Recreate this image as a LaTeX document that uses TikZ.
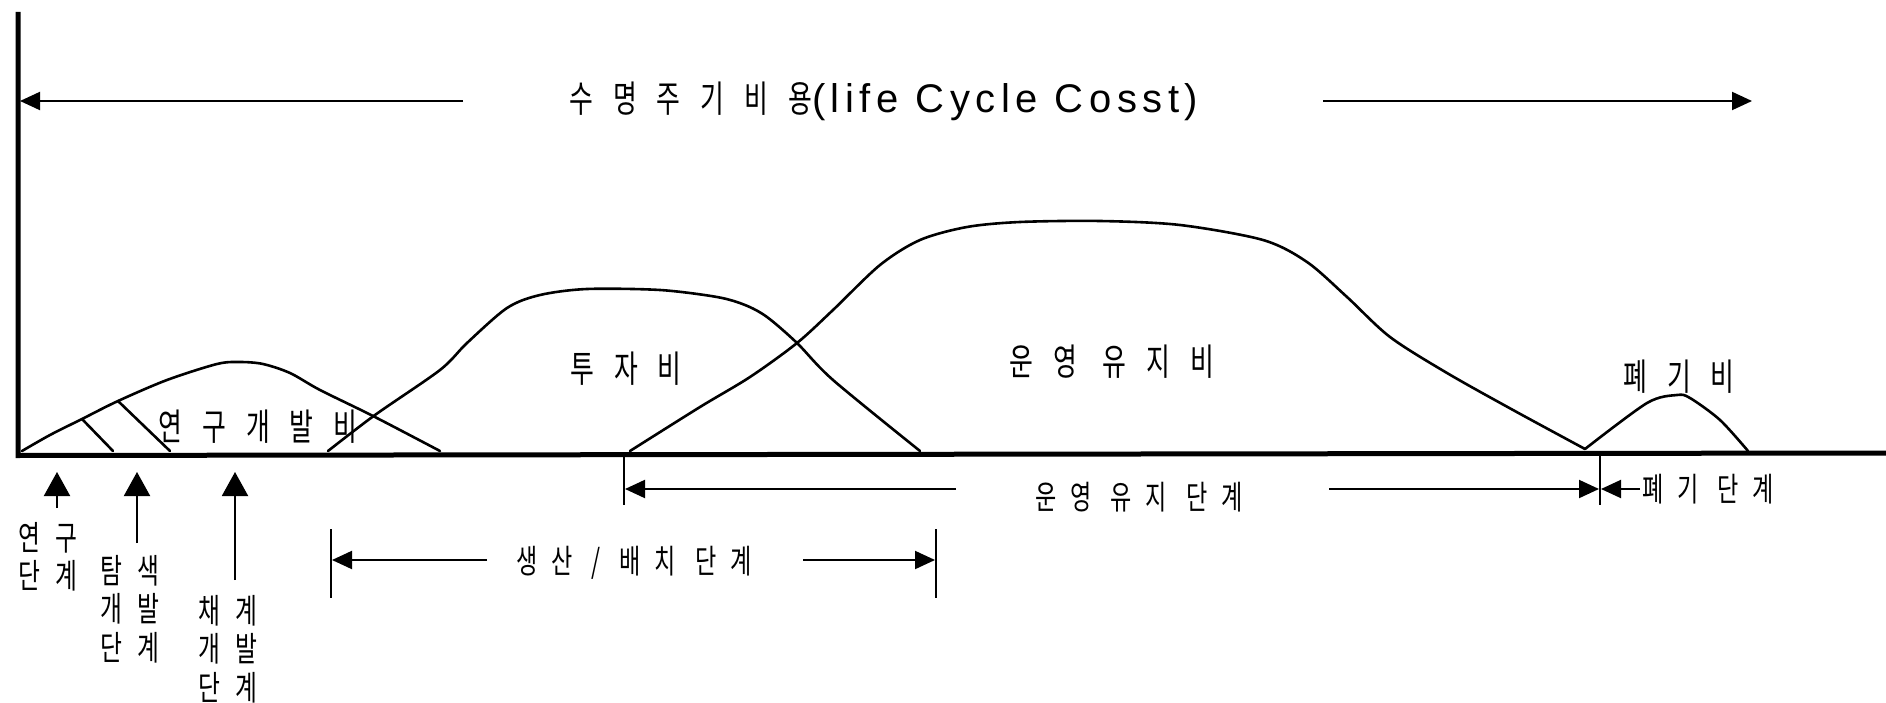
\documentclass[tikz,border=0pt]{standalone}
\usepackage{fontspec}
\setmainfont{Noto Sans CJK KR}
\newfontfamily\krbig[FakeStretch=0.7,LetterSpace=54]{Noto Sans CJK KR}
\newfontfamily\krsmall[FakeStretch=0.7,LetterSpace=42]{Noto Sans CJK KR}
\newfontfamily\krstack[FakeStretch=0.7,LetterSpace=43]{Noto Sans CJK KR}
\newfontfamily\lat[LetterSpace=14]{Liberation Sans}
\usetikzlibrary{arrows.meta}
\tikzset{
  axisline/.style={line width=5pt},
  curveline/.style={line width=2.6pt, line join=round, line cap=round},
  dimline/.style={line width=2pt},
  barline/.style={line width=2.4pt},
  headarr/.style={-{Triangle[length=20pt,width=18pt]}},
  uparr/.style={line width=2pt,-{Triangle[length=24pt,width=26pt]}},
  big/.style={inner sep=0pt, font=\fontsize{37}{40}\selectfont\krbig},
  small/.style={inner sep=0pt, font=\fontsize{33}{36}\selectfont\krsmall},
  stack/.style={inner sep=0pt, align=center, font=\fontsize{34}{38.5}\selectfont\krstack},
}
\begin{document}
\begin{tikzpicture}[x=1pt,y=-1pt]
\useasboundingbox (0,0) rectangle (1886,703);
% axes
\coordinate (ytop) at (18,12);
\coordinate (O) at (18,453);
\coordinate (xend) at (1886,453);
\draw[axisline] (ytop) -- (18,455.5) -- (xend);
% title arrow
\node[big, anchor=west] (title) at (569,101) {수명주기비용{\fontsize{40}{40}\selectfont\lat(life Cycle Cosst)}};
\coordinate (tlS) at (463,101);
\coordinate (tlE) at (20,101);
\coordinate (trS) at (1323,101);
\coordinate (trE) at (1752,101);
\draw[dimline,headarr] (tlS) -- (tlE);
\draw[dimline,headarr] (trS) -- (trE);
% curves
\draw[curveline] plot[smooth, tension=0.5] coordinates {(22,451) (50,435) (82,419) (118,401) (167,380) (217,364) (240,362) (263,364) (290,373) (320,390) (373,416) (440,451)};
\draw[curveline] (82,419) -- (113,451);
\draw[curveline] (118,401) -- (170,451);
\draw[curveline] plot[smooth, tension=0.5] coordinates {(328,451) (375,415) (440,370) (467,343) (507,308) (540,295) (587,289) (660,290) (717,297) (745,305) (767,317) (797,343) (833,380) (920,451)};
\draw[curveline] plot[smooth, tension=0.5] coordinates {(630,451) (700,407) (750,377) (797,343) (833,310) (880,265) (920,240) (967,227) (1020,222) (1100,221) (1180,225) (1263,240) (1307,262) (1347,297) (1390,337) (1447,373) (1513,410) (1585,449)};
\draw[curveline] plot[smooth, tension=0.5] coordinates {(1585,449) (1647,403) (1677,395) (1690,398) (1720,420) (1748,451)};
% curve labels
\node[big] (rd) at (258,427) {연구개발비};
\node[big] (inv) at (626,369) {투자비};
\node[big] (om) at (1112,362) {운영 유지비};
\node[big] (disp) at (1679,377) {폐기비};
% stage labels with up arrows
\node[stack] (s1) at (48,557) {연구\\단계};
\node[stack] (s2) at (130,609) {탐색\\개발\\단계};
\node[stack] (s3) at (228,649) {채계\\개발\\단계};
\coordinate (a1t) at (57,508); \coordinate (a1h) at (57,472);
\coordinate (a2t) at (137,543); \coordinate (a2h) at (137,472);
\coordinate (a3t) at (235,580); \coordinate (a3h) at (235,472);
\draw[uparr] (a1t) -- (a1h);
\draw[uparr] (a2t) -- (a2h);
\draw[uparr] (a3t) -- (a3h);
% production / deployment
\coordinate (pL1) at (331,529); \coordinate (pL2) at (331,598);
\coordinate (pR1) at (936,529); \coordinate (pR2) at (936,598);
\draw[barline] (pL1) -- (pL2);
\draw[barline] (pR1) -- (pR2);
\node[small] (prod) at (634,563) {생산 / 배치 단계};
\coordinate (pa1) at (487,560); \coordinate (pa1e) at (332,560);
\coordinate (pa2) at (803,560); \coordinate (pa2e) at (935,560);
\draw[dimline,headarr] (pa1) -- (pa1e);
\draw[dimline,headarr] (pa2) -- (pa2e);
% operation / maintenance
\coordinate (oL1) at (624,453); \coordinate (oL2) at (624,505);
\coordinate (oR1) at (1600,453); \coordinate (oR2) at (1600,505);
\draw[barline] (oL1) -- (oL2);
\draw[barline] (oR1) -- (oR2);
\node[small] (opm) at (1139,497) {운영 유지 단계};
\coordinate (oa1) at (956,489); \coordinate (oa1e) at (625,489);
\coordinate (oa2) at (1329,489); \coordinate (oa2e) at (1599,489);
\draw[dimline,headarr] (oa1) -- (oa1e);
\draw[dimline,headarr] (oa2) -- (oa2e);
% disposal stage
\node[small] (dst) at (1708,489) {폐기 단계};
\coordinate (da) at (1640,489); \coordinate (dae) at (1601,489);
\draw[dimline,headarr] (da) -- (dae);
\end{tikzpicture}
\end{document}
